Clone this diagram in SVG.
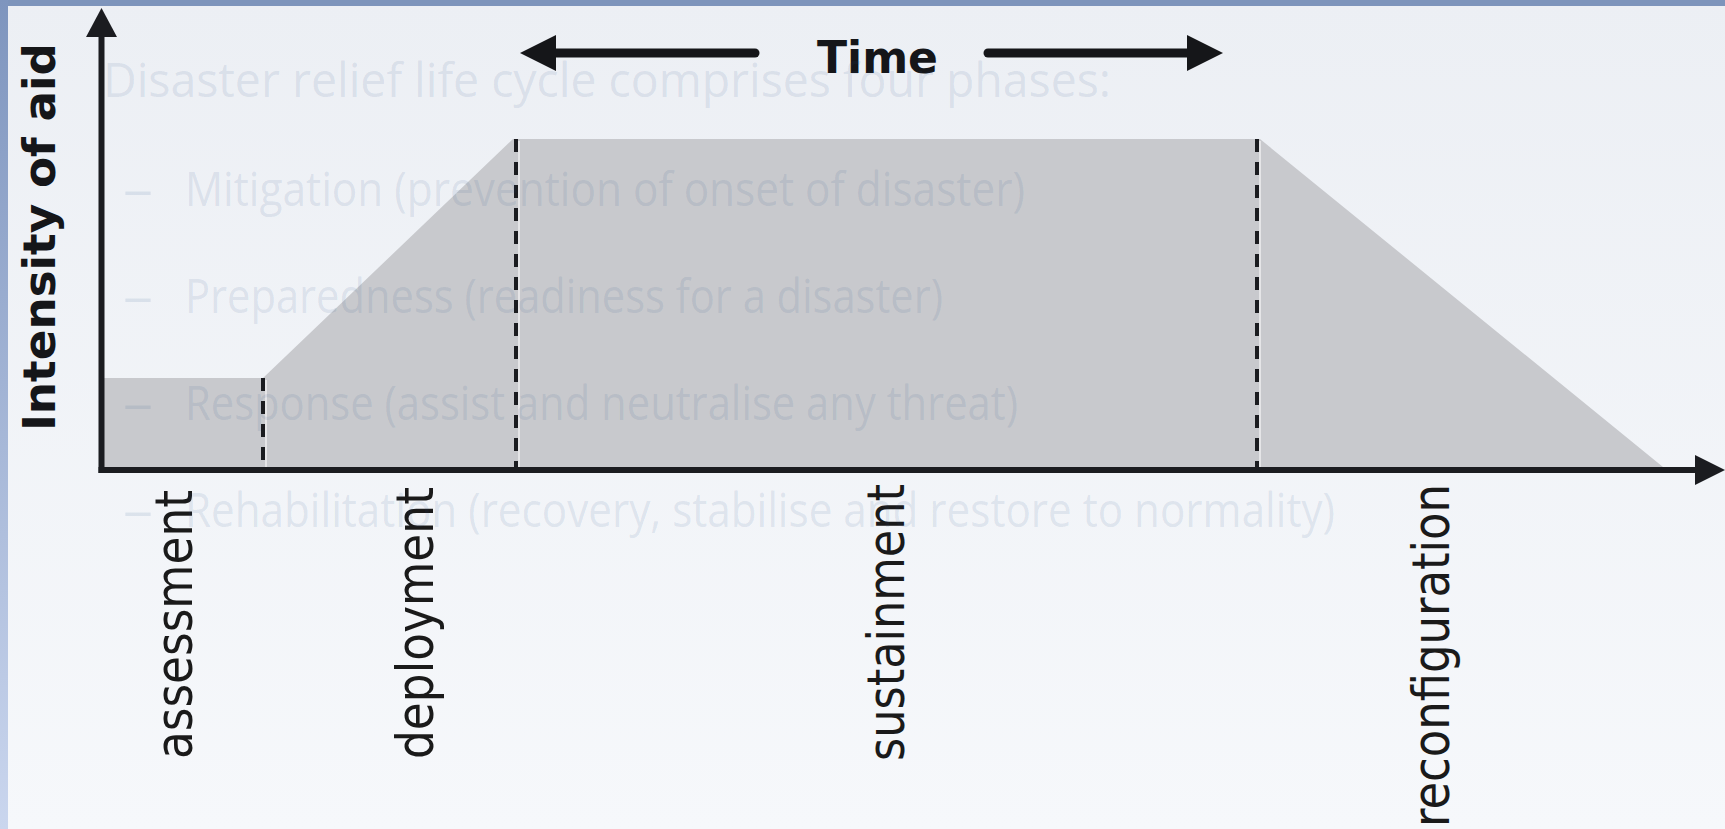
<svg xmlns="http://www.w3.org/2000/svg" width="1725" height="829" viewBox="0 0 1725 829">
  <defs>
    <linearGradient id="bgGrad" x1="0" y1="0" x2="0" y2="1">
      <stop offset="0" stop-color="#eceff4"/>
      <stop offset="1" stop-color="#f6f8fb"/>
    </linearGradient>
    <linearGradient id="leftBand" x1="0" y1="0" x2="0" y2="1">
      <stop offset="0" stop-color="#7e95be"/>
      <stop offset="1" stop-color="#cad6ee"/>
    </linearGradient>
    <style>
      .wm { font-family: "Open Sans", "Noto Sans", "Liberation Sans", sans-serif; font-size: 47px; fill: #264f87; fill-opacity: 0.11; }
      .axis { stroke: #1b1c20; stroke-width: 6; fill: none; }
      .head { fill: #1b1c20; }
      .dash { stroke: #1b1c20; stroke-width: 4; stroke-dasharray: 13 10; fill: none; }
      .glow { stroke: #ffffff; stroke-width: 1.5; stroke-opacity: 0.7; fill: none; }
      .timearrow { stroke: #151619; stroke-width: 9; stroke-linecap: round; fill: none; }
      .timehead { fill: #151619; }
      .label { font-family: "DejaVu Sans", Verdana, sans-serif; font-size: 51px; fill: #1a1a1a; }
      .bold { font-family: "DejaVu Sans", Verdana, sans-serif; font-weight: bold; fill: #151619; }
    </style>
  </defs>

  <g id="background">
    <rect x="0" y="0" width="1725" height="829" fill="url(#bgGrad)"/>
    <rect x="0" y="0" width="1725" height="6" fill="#7d94bb"/>
    <rect x="0" y="0" width="8" height="829" fill="url(#leftBand)"/>
  </g>

  <g id="intensity-area">
    <polygon points="104,378 263,378 513,139 1260,139 1663,467 104,467" fill="#c8c9cd"/>
  </g>

  <g id="connectors">
    <line class="glow" x1="266" y1="380" x2="266" y2="467"/>
    <line class="glow" x1="519" y1="141" x2="519" y2="467"/>
    <line class="glow" x1="1260" y1="141" x2="1260" y2="467"/>
    <line class="dash" x1="263" y1="378" x2="263" y2="467"/>
    <line class="dash" x1="516" y1="139" x2="516" y2="467"/>
    <line class="dash" x1="1257" y1="139" x2="1257" y2="467"/>

    <line class="axis" x1="101.5" y1="473" x2="101.5" y2="34"/>
    <polygon class="head" points="101.5,8 117,37 86,37"/>
    <line class="axis" x1="98.5" y1="470" x2="1697" y2="470"/>
    <polygon class="head" points="1725,470 1695,485 1695,455"/>

    <line class="timearrow" x1="552" y1="53" x2="755" y2="53"/>
    <polygon class="timehead" points="520,53 556,35 556,71"/>
    <line class="timearrow" x1="988" y1="53" x2="1191" y2="53"/>
    <polygon class="timehead" points="1223,53 1187,35 1187,71"/>
  </g>

  <g id="time-label">
    <text class="bold" x="817" y="73" font-size="45" textLength="121" lengthAdjust="spacingAndGlyphs">Time</text>
  </g>

  <g id="y-axis-label">
    <text class="bold" font-size="45" transform="translate(55,431) rotate(-90)" textLength="388" lengthAdjust="spacingAndGlyphs">Intensity of aid</text>
  </g>

  <g id="phase-assessment">
    <text class="label" transform="translate(192,759) rotate(-90)" textLength="269" lengthAdjust="spacingAndGlyphs">assessment</text>
  </g>
  <g id="phase-deployment">
    <text class="label" transform="translate(433,759) rotate(-90)" textLength="272" lengthAdjust="spacingAndGlyphs">deployment</text>
  </g>
  <g id="phase-sustainment">
    <text class="label" transform="translate(904,761) rotate(-90)" textLength="277" lengthAdjust="spacingAndGlyphs">sustainment</text>
  </g>
  <g id="phase-reconfiguration">
    <text class="label" transform="translate(1449,827) rotate(-90)" textLength="343" lengthAdjust="spacingAndGlyphs">reconfiguration</text>
  </g>

  <g id="watermark-text">
    <text class="wm" x="103" y="97" textLength="1008" lengthAdjust="spacingAndGlyphs">Disaster relief life cycle comprises four phases:</text>
    <text class="wm" x="123" y="206" textLength="30" lengthAdjust="spacingAndGlyphs">–</text>
    <text class="wm" x="185" y="206" textLength="840" lengthAdjust="spacingAndGlyphs">Mitigation (prevention of onset of disaster)</text>
    <text class="wm" x="123" y="313" textLength="30" lengthAdjust="spacingAndGlyphs">–</text>
    <text class="wm" x="185" y="313" textLength="758" lengthAdjust="spacingAndGlyphs">Preparedness (readiness for a disaster)</text>
    <text class="wm" x="123" y="420" textLength="30" lengthAdjust="spacingAndGlyphs">–</text>
    <text class="wm" x="185" y="420" textLength="833" lengthAdjust="spacingAndGlyphs">Response (assist and neutralise any threat)</text>
    <text class="wm" x="123" y="527" textLength="30" lengthAdjust="spacingAndGlyphs">–</text>
    <text class="wm" x="185" y="527" textLength="1150" lengthAdjust="spacingAndGlyphs">Rehabilitation (recovery, stabilise and restore to normality)</text>
  </g>
</svg>
